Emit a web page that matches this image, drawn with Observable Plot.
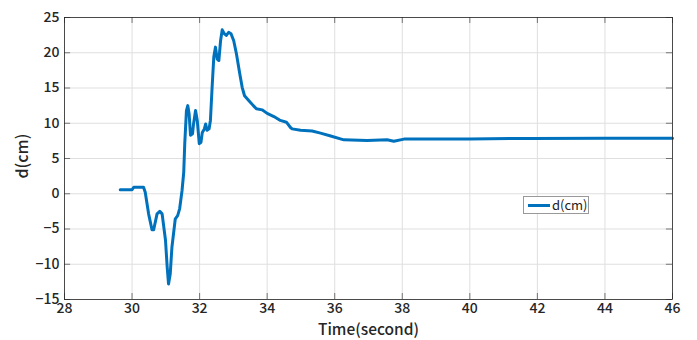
<!DOCTYPE html>
<html>
<head>
<meta charset="utf-8">
<script src="https://cdn.jsdelivr.net/npm/d3@7"></script>
<script src="https://cdn.jsdelivr.net/npm/@observablehq/plot@0.6"></script>
<style>
  body { margin: 0; background: #fff; }
  #wrap { position: relative; width: 697px; height: 340px; font-family: "Noto Sans CJK JP", "Noto Sans", sans-serif; }
  #legend { position: absolute; left: 523px; top: 196px; width: 64px; height: 16px; border: 1px solid #999; background: #fff;
    font-size: 13px; line-height: 16px; color: #222; box-sizing: content-box; }
  #legend .sw { position: absolute; left: 4px; top: 7px; width: 22px; height: 3px; background: #0072BD; }
  #legend .tx { position: absolute; left: 28px; top: 0; }
</style>
</head>
<body>
<div id="wrap"></div>
<script>
const times = [29.65, 30.0, 30.05, 30.34, 30.39, 30.49, 30.59, 30.64, 30.74, 30.82, 30.89, 30.99, 31.04, 31.08, 31.13, 31.18, 31.28, 31.35, 31.41, 31.48, 31.53, 31.56, 31.61, 31.65, 31.69, 31.73, 31.79, 31.82, 31.88, 31.93, 31.99, 32.04, 32.08, 32.14, 32.18, 32.22, 32.28, 32.32, 32.37, 32.42, 32.47, 32.52, 32.57, 32.62, 32.67, 32.73, 32.79, 32.86, 32.93, 33.01, 33.09, 33.19, 33.26, 33.33, 33.46, 33.59, 33.68, 33.85, 34.0, 34.2, 34.39, 34.57, 34.69, 34.74, 34.99, 35.33, 35.58, 35.88, 36.27, 36.96, 37.55, 37.75, 38.05, 40.0, 41.8, 44.0, 46.0];
const values = [0.56, 0.56, 0.93, 0.93, 0.2, -2.85, -5.1, -5.1, -2.85, -2.5, -2.85, -6.6, -10.4, -12.8, -11.4, -7.6, -3.55, -3.1, -2.1, 0.46, 3.05, 7.1, 11.8, 12.5, 11.3, 8.3, 8.5, 9.9, 11.8, 10.4, 7.1, 7.3, 8.7, 9.2, 9.9, 9.0, 9.2, 10.4, 15.1, 19.4, 20.8, 19.1, 18.9, 21.7, 23.25, 22.7, 22.45, 22.9, 22.7, 21.7, 19.85, 17.0, 15.1, 13.9, 13.2, 12.5, 12.05, 11.9, 11.4, 10.95, 10.4, 10.15, 9.4, 9.2, 9.0, 8.9, 8.6, 8.2, 7.65, 7.55, 7.65, 7.45, 7.75, 7.78, 7.85, 7.88, 7.88];
const xTicks = [28, 30, 32, 34, 36, 38, 40, 42, 44, 46];
const yTicks = [-15, -10, -5, 0, 5, 10, 15, 20, 25];
const seriesName = "d(cm)";
const xLabel = "Time(second)";
const yLabel = "d(cm)";

const data = times.map((t, i) => ({t, v: values[i]}));
const xTickLen = 0.85;  // in y units (~6px)
const yTickLen = 0.18;  // in x units (~6px)

const chart = Plot.plot({
  width: 697,
  height: 340,
  marginLeft: 64,
  marginRight: 25,
  marginTop: 17,
  marginBottom: 41,
  style: {fontFamily: "'Noto Sans CJK JP', 'Noto Sans', sans-serif", fontSize: "14px", color: "#262626", background: "#fff"},
  x: {domain: [28, 46]},
  y: {domain: [-15, 25]},
  marks: [
    Plot.gridX(xTicks, {stroke: "#dfdfdf", strokeOpacity: 1}),
    Plot.gridY(yTicks, {stroke: "#dfdfdf", strokeOpacity: 1}),
    Plot.ruleX(xTicks, {x: d => d, y1: -15, y2: -15 + xTickLen, stroke: "#262626", strokeWidth: 0.6}),
    Plot.ruleX(xTicks, {x: d => d, y1: 25, y2: 25 - xTickLen, stroke: "#262626", strokeWidth: 0.6}),
    Plot.ruleY(yTicks, {y: d => d, x1: 28, x2: 28 + yTickLen, stroke: "#262626", strokeWidth: 0.6}),
    Plot.ruleY(yTicks, {y: d => d, x1: 46, x2: 46 - yTickLen, stroke: "#262626", strokeWidth: 0.6}),
    Plot.line(data, {x: "t", y: "v", stroke: "#0072BD", strokeWidth: 3, curve: "linear", strokeLinejoin: "round"}),
    Plot.frame({stroke: "#262626", strokeWidth: 0.8}),
    Plot.axisX(xTicks, {tickSize: 0, tickPadding: 4, fontSize: 14, fontWeight: 500, label: null}),
    Plot.axisY(yTicks, {tickSize: 0, tickPadding: 5, fontSize: 14, fontWeight: 500, label: null}),
    Plot.text([xLabel], {frameAnchor: "bottom", dy: 35, fontSize: 15.5, fontWeight: 500, fill: "#262626"}),
    Plot.text([yLabel], {frameAnchor: "left", dx: -42, dy: 20, rotate: -90, fontSize: 16, fontWeight: 500, fill: "#262626"})
  ]
});

const wrap = document.getElementById("wrap");
wrap.appendChild(chart);
const legend = document.createElement("div");
legend.id = "legend";
legend.innerHTML = `<div class="sw"></div><div class="tx">${seriesName}</div>`;
wrap.appendChild(legend);
</script>
</body>
</html>
